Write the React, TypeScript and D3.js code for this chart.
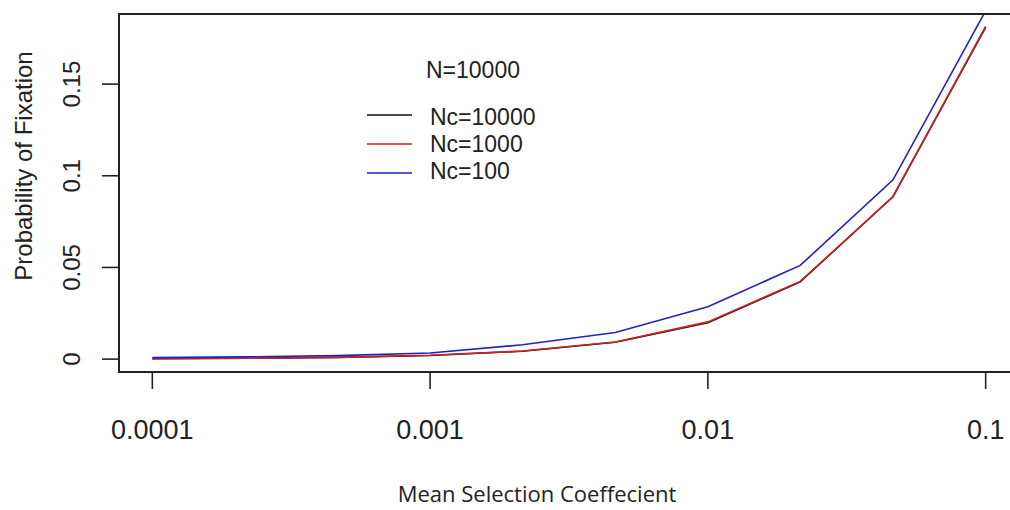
import React from "react";
import * as d3 from "d3";

// mean selection coefficient (log spaced, 3 per decade)
const sValues = [0.0001, 0.000215, 0.000464, 0.001, 0.00215, 0.00464, 0.01, 0.0215, 0.0464, 0.1];

// probability of fixation, N = 10000
const pNc10000 = [0.0002, 0.00043, 0.00093, 0.002, 0.0043, 0.0092, 0.0199, 0.0421, 0.0887, 0.181];
const pNc1000 = [0.0002, 0.00044, 0.00094, 0.0021, 0.0044, 0.0093, 0.0203, 0.0424, 0.0885, 0.1815];
const pNc100 = [0.0008, 0.0012, 0.0019, 0.0033, 0.0078, 0.0145, 0.0286, 0.0511, 0.0978, 0.19];

const seriesNames = ["Nc=10000", "Nc=1000", "Nc=100"];
const seriesColors = ["#111111", "#cc2222", "#2222bb"];

const xTicks = [0.0001, 0.001, 0.01, 0.1];
const xTickLabels = ["0.0001", "0.001", "0.01", "0.1"];
const yTicks = [0, 0.05, 0.1, 0.15];
const yTickLabels = ["0", "0.05", "0.1", "0.15"];

const legendTitle = "N=10000";
const xTitle = "Mean Selection Coeffecient";
const yTitle = "Probability of Fixation";

export default function App() {
  const W = 1010
  const H = 510
  const left = 119, right = 1019, top = 14, bottom = 372

  // R style: pad the data range by 4% on each side
  const lx = d3.extent(sValues.map(Math.log10)) as [number, number]
  const padX = (lx[1] - lx[0]) * 0.04
  const x = d3.scaleLog()
    .domain([Math.pow(10, lx[0] - padX), Math.pow(10, lx[1] + padX)])
    .range([left, right])

  const ly = d3.extent(pNc10000) as [number, number]
  const padY = (ly[1] - ly[0]) * 0.04
  const y = d3.scaleLinear().domain([ly[0] - padY, ly[1] + padY]).range([bottom, top])

  const series = [pNc10000, pNc1000, pNc100]
  const line = d3.line<number>()
    .x((_, i) => x(sValues[i]))
    .y(d => y(d))

  const font = "'Liberation Sans', Arial, sans-serif"

  return (
    <svg width={W} height={H} style={{ position: "absolute", left: 0, top: 0, background: "#fff" }}>
      <defs>
        <clipPath id="plotClip">
          <rect x={left} y={top} width={right - left} height={bottom - top} />
        </clipPath>
      </defs>

      <g clipPath="url(#plotClip)">
        {series.map((vals, k) => (
          <path key={k} d={line(vals) ?? ""} fill="none" stroke={seriesColors[k]} strokeWidth={1.6} />
        ))}
      </g>

      <rect x={left} y={top} width={right - left} height={bottom - top} fill="none" stroke="#222" strokeWidth={2} />

      {/* x axis */}
      {xTicks.map((t, i) => (
        <g key={t}>
          <line x1={x(t)} x2={x(t)} y1={bottom} y2={bottom + 17} stroke="#222" strokeWidth={1.6} />
          <text x={x(t)} y={439} textAnchor="middle" fontFamily={font} fontSize={27} fill="#222">
            {xTickLabels[i]}
          </text>
        </g>
      ))}

      {/* y axis */}
      {yTicks.map((t, i) => (
        <g key={t}>
          <line x1={left} x2={left - 17} y1={y(t)} y2={y(t)} stroke="#222" strokeWidth={1.6} />
          <text transform={`translate(80,${y(t)}) rotate(-90)`} textAnchor="middle"
            fontFamily={font} fontSize={24} fill="#222">
            {yTickLabels[i]}
          </text>
        </g>
      ))}

      <text x={537} y={502} textAnchor="middle" fontFamily="'Open Sans', sans-serif" fontSize={22} fill="#222">
        {xTitle}
      </text>
      <text transform="translate(32,166) rotate(-90)" textAnchor="middle" fontFamily={font} fontSize={24} fill="#222">
        {yTitle}
      </text>

      {/* legend */}
      <text x={426} y={78} fontFamily={font} fontSize={23} fill="#222">{legendTitle}</text>
      {seriesNames.map((name, k) => (
        <g key={name}>
          <line x1={367} x2={412} y1={115 + k * 29} y2={115 + k * 29} stroke={seriesColors[k]} strokeWidth={1.6} />
          <text x={430} y={125 + k * 27} fontFamily={font} fontSize={23} fill="#222">{name}</text>
        </g>
      ))}
    </svg>
  )
}
